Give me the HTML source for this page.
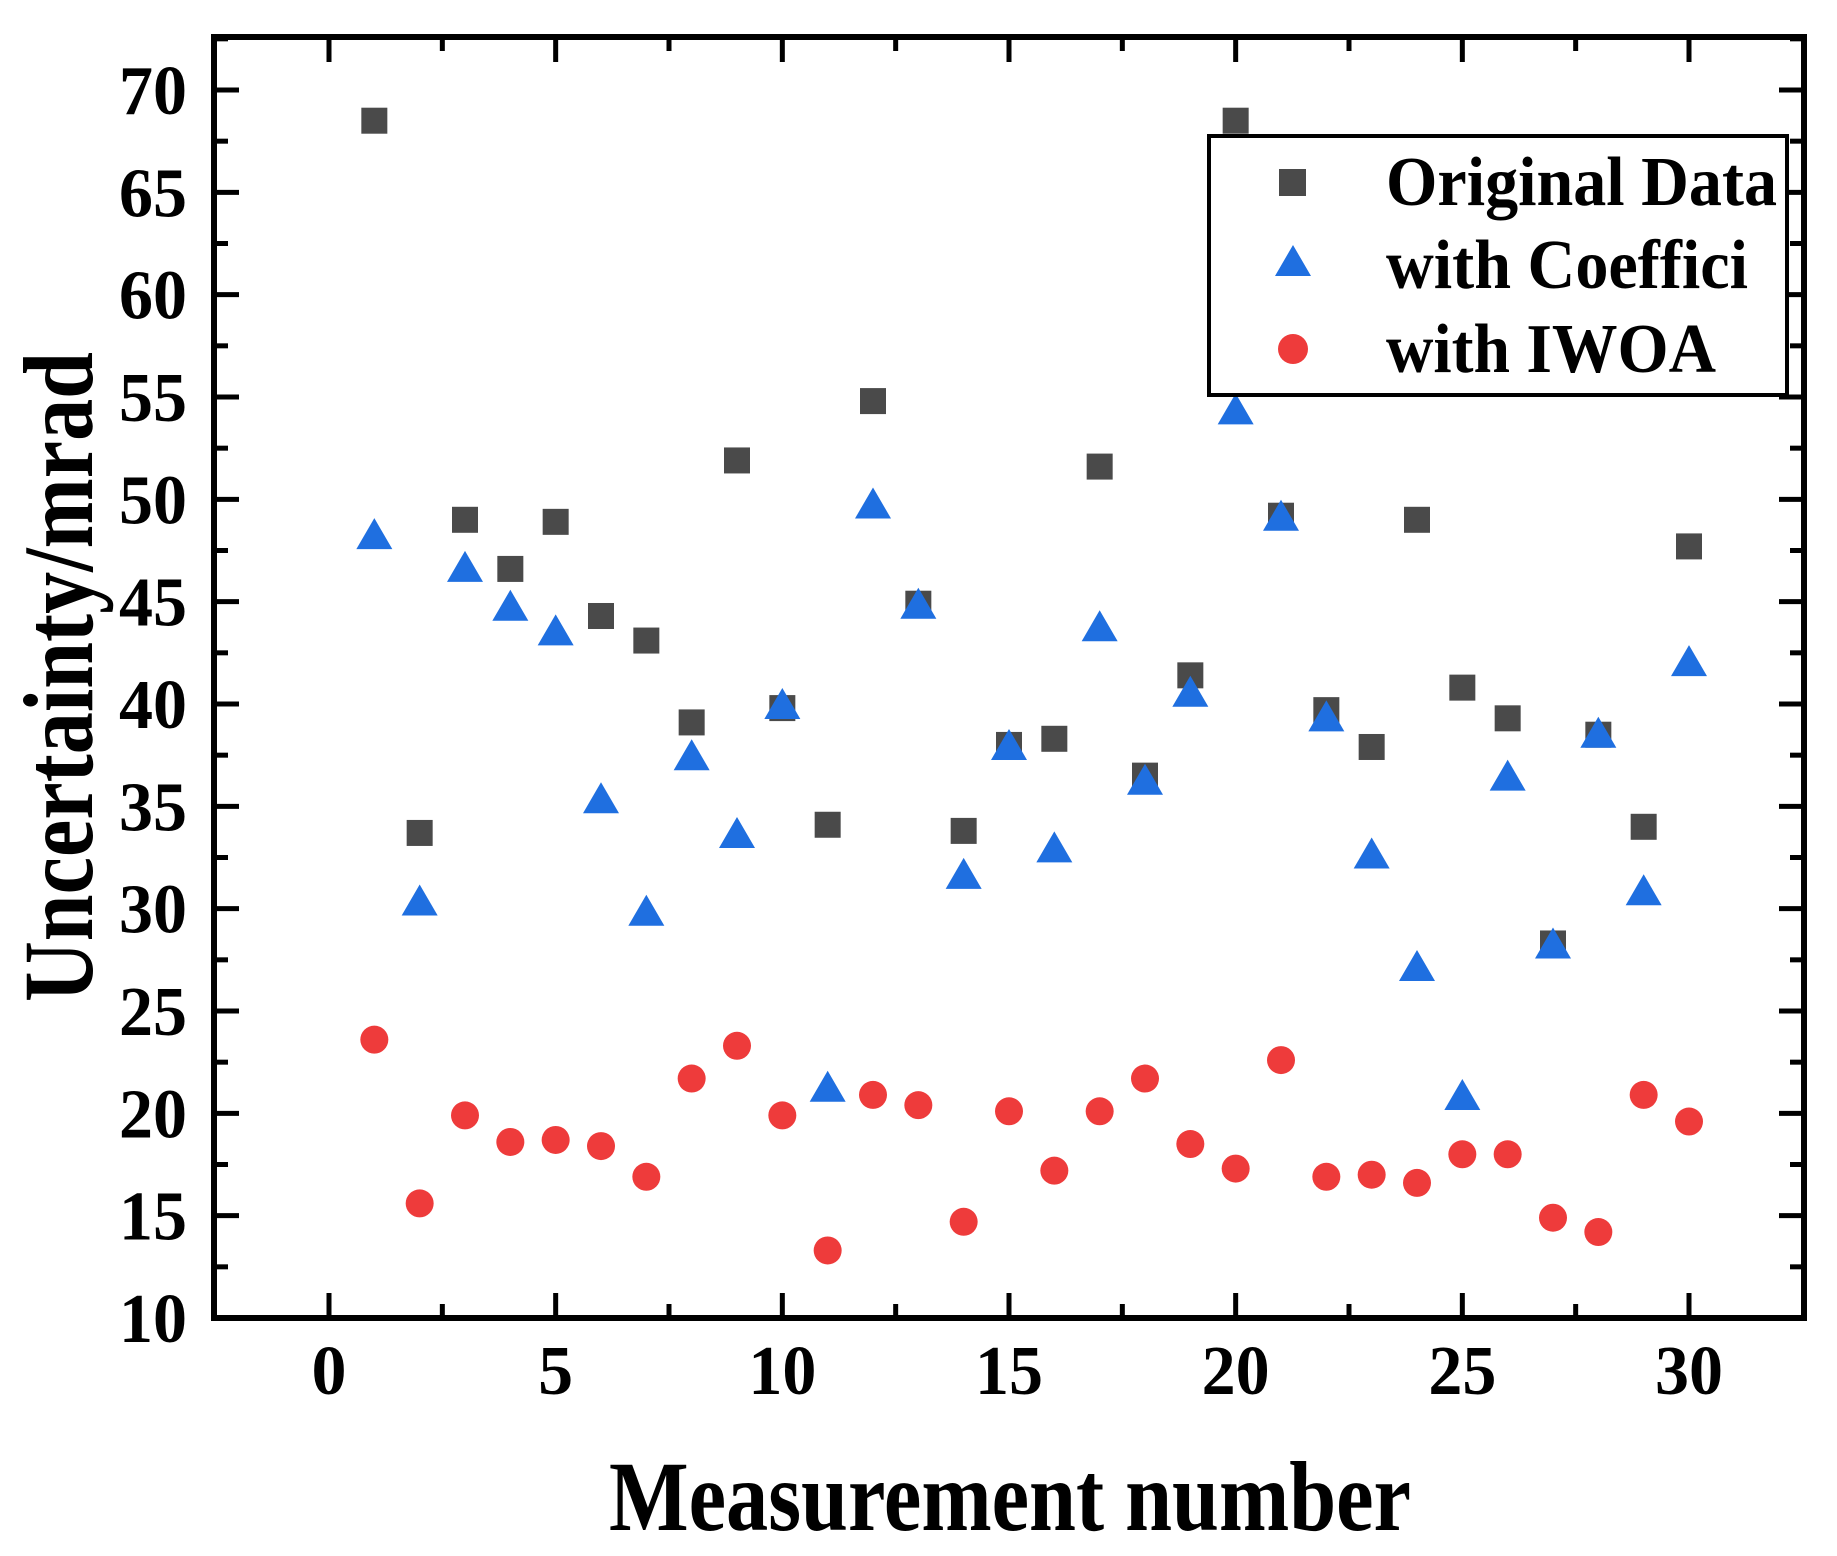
<!DOCTYPE html>
<html><head><meta charset="utf-8"><style>
html,body{margin:0;padding:0;background:#fff;}
svg{display:block;font-family:"Liberation Serif",serif;font-weight:bold;}
</style></head><body>
<svg id="chart" width="1837" height="1556" viewBox="0 0 1837 1556" xmlns="http://www.w3.org/2000/svg">
<g id="marks"></g>
<g id="axes"></g>
<g id="legend">
  <rect x="1209" y="136" width="578" height="259" fill="#fff" stroke="#000" stroke-width="4"/>
  <rect x="1279" y="169" width="27" height="27" fill="#4a4a4a"/>
  <text x="1386" y="205" font-size="70" textLength="391" lengthAdjust="spacingAndGlyphs">Original Data</text>
  <polygon points="1293,245 1275,276 1311,276" fill="#1f6fe0"/>
  <text x="1386" y="288" font-size="70" textLength="362" lengthAdjust="spacingAndGlyphs">with Coeffici</text>
  <circle cx="1293" cy="349" r="15" fill="#ee3b3b"/>
  <text x="1386" y="372" font-size="70" textLength="330" lengthAdjust="spacingAndGlyphs">with IWOA</text>
</g>
</svg>
<script>
const xVals = [1,2,3,4,5,6,7,8,9,10,11,12,13,14,15,16,17,18,19,20,21,22,23,24,25,26,27,28,29,30];
const originalData = [68.5,33.7,49.0,46.6,48.9,44.3,43.1,39.1,51.9,39.8,34.1,54.8,44.9,33.8,38.0,38.3,51.6,36.5,41.4,68.5,49.2,39.7,37.9,49.0,40.8,39.3,28.3,38.5,34.0,47.7];
const coeffData = [48.2,30.3,46.6,44.7,43.5,35.3,29.8,37.4,33.6,39.9,21.2,49.7,44.8,31.6,37.9,32.9,43.7,36.2,40.5,54.3,49.1,39.3,32.6,27.1,20.8,36.4,28.2,38.5,30.8,42.0];
const iwoaData = [23.6,15.6,19.9,18.6,18.7,18.4,16.9,21.7,23.3,19.9,13.3,20.9,20.4,14.7,20.1,17.2,20.1,21.7,18.5,17.3,22.6,16.9,17.0,16.6,18.0,18.0,14.9,14.2,20.9,19.6];
const xTicks = [0,5,10,15,20,25,30];
const yTicks = [10,15,20,25,30,35,40,45,50,55,60,65,70];

const L=214,R=1804,T=37,B=1318;
function xs(v){return 329+(v-0)*(1689-329)/30;}
function ys(v){return 1318-(v-10)*(1318-90)/60;}
const NS="http://www.w3.org/2000/svg";
const marks=document.getElementById('marks');
const axes=document.getElementById('axes');
function mk(tag,attrs,parent){const e=document.createElementNS(NS,tag);for(const k in attrs)e.setAttribute(k,attrs[k]);parent.appendChild(e);return e;}

xVals.forEach((x,i)=>{
  const cx=xs(x),cy=ys(originalData[i]);
  const r=mk('rect',{x:cx-13,y:cy-13,width:26,height:26,fill:'#4a4a4a'},marks);
  
  
});
xVals.forEach((x,i)=>{
  const cx=xs(x),cy=ys(coeffData[i]);
  const p=mk('polygon',{points:`${cx},${cy-18} ${cx-18},${cy+13} ${cx+18},${cy+13}`,fill:'#1f6fe0'},marks);
  
  
});
xVals.forEach((x,i)=>{
  const c=mk('circle',{cx:xs(x),cy:ys(iwoaData[i]),r:14,fill:'#ee3b3b'},marks);
  
  
});

const frame=mk('rect',{x:L,y:T,width:R-L,height:B-T,fill:'none',stroke:'#000','stroke-width':6},axes);



xTicks.forEach(v=>{
  const x=xs(v);
  mk('line',{x1:x,y1:B,x2:x,y2:B-25,stroke:'#000','stroke-width':5},axes);
  mk('line',{x1:x,y1:T,x2:x,y2:T+25,stroke:'#000','stroke-width':5},axes);
  const m=xs(v+2.5);
  if(v<30){mk('line',{x1:m,y1:B,x2:m,y2:B-14,stroke:'#000','stroke-width':5},axes);
  mk('line',{x1:m,y1:T,x2:m,y2:T+14,stroke:'#000','stroke-width':5},axes);}
  const t=mk('text',{x:x,y:1394,'font-size':70,'text-anchor':'middle'},axes);
  
  
  t.textContent=String(v);
  if(String(v).length>1){t.setAttribute('textLength',68);t.setAttribute('lengthAdjust','spacingAndGlyphs');}
});
yTicks.forEach(v=>{
  const y=ys(v);
  mk('line',{x1:L,y1:y,x2:L+25,y2:y,stroke:'#000','stroke-width':5},axes);
  mk('line',{x1:R,y1:y,x2:R-25,y2:y,stroke:'#000','stroke-width':5},axes);
  const m=ys(v+2.5);
  mk('line',{x1:L,y1:m,x2:L+14,y2:m,stroke:'#000','stroke-width':5},axes);
  mk('line',{x1:R,y1:m,x2:R-14,y2:m,stroke:'#000','stroke-width':5},axes);
  const t=mk('text',{x:187,y:y+24,'font-size':70,'text-anchor':'end',textLength:68,lengthAdjust:'spacingAndGlyphs'},axes);
  
  
  t.textContent=String(v);
});
const xt=mk('text',{x:1010,y:1530,'font-size':100,'text-anchor':'middle',textLength:802,lengthAdjust:'spacingAndGlyphs'},axes);


xt.textContent='Measurement number';
const yt=mk('text',{x:0,y:0,'font-size':100,'text-anchor':'middle',textLength:650,lengthAdjust:'spacingAndGlyphs',transform:'translate(92,677) rotate(-90)'},axes);


yt.textContent='Uncertainty/mrad';
</script>
</body></html>
